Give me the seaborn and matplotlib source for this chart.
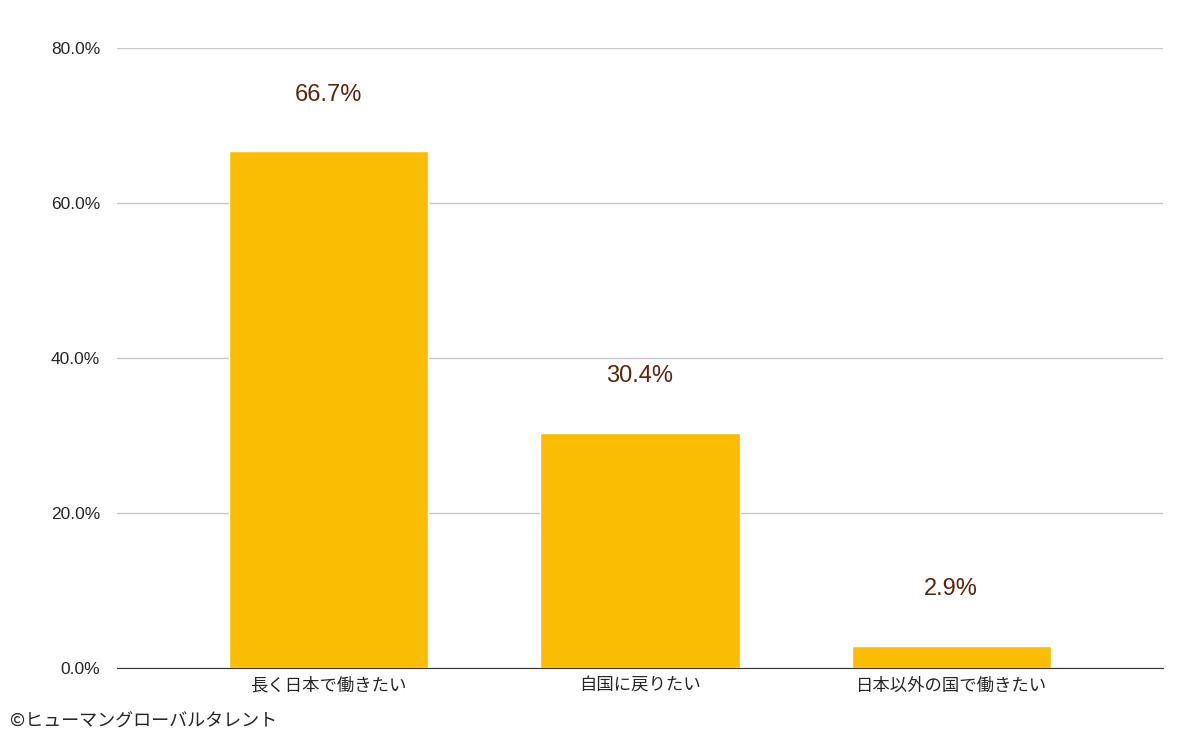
import seaborn as sns
import matplotlib.pyplot as plt
import pandas as pd

categories = ['長く日本で働きたい', '自国に戻りたい', '日本以外の国で働きたい']
values = [66.7, 30.4, 2.9]
labels = ['66.7%', '30.4%', '2.9%']
yticks = [0, 20, 40, 60, 80]

sns.set_style("white")
plt.rcParams['font.family'] = ['Noto Sans CJK JP', 'DejaVu Sans']

df = pd.DataFrame({'cat': categories, 'val': values})

fig = plt.figure(figsize=(12, 7.42), dpi=100)
ax = fig.add_axes([0.0975, 0.0997, 0.8715, 0.8353])

sns.barplot(data=df, x='cat', y='val', color='#fbbc04', saturation=1, width=0.64, ax=ax)

for i, (v, t) in enumerate(zip(values, labels)):
    ax.text(i, v + 7.3, t, ha='center', va='center', fontsize=17,
            color='#5b250e', family=['Liberation Sans', 'DejaVu Sans'])

ax.set_ylim(0, 80)
ax.set_xlim(-0.68, 2.68)
ax.set_yticks(yticks)
ax.set_yticklabels([f'{y:.1f}%' for y in yticks], fontsize=12.5,
                   family=['Liberation Sans', 'DejaVu Sans'])
ax.tick_params(axis='x', labelsize=12.5, length=0, pad=6)
ax.tick_params(axis='y', length=0, pad=12)
ax.yaxis.grid(True, color='#c8c8c8', lw=1)
ax.set_axisbelow(True)
ax.set_xlabel('')
ax.set_ylabel('')
for s in ['top', 'right', 'left']:
    ax.spines[s].set_visible(False)
ax.spines['bottom'].set_color('#333333')

fig.text(0.008, 0.027, '©ヒューマングローバルタレント', fontsize=13, ha='left', va='center')

plt.savefig('out.png', dpi=100)
